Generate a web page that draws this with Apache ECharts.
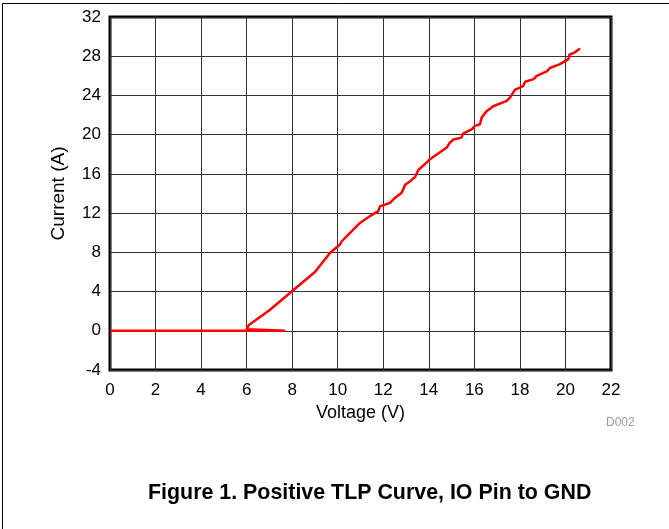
<!DOCTYPE html>
<html>
<head>
<meta charset="utf-8">
<script src="https://cdn.jsdelivr.net/npm/echarts@6/dist/echarts.min.js"></script>
<style>
html,body{margin:0;padding:0;background:#fff;}
#c{width:669px;height:529px;}
</style>
</head>
<body>
<div id="c"></div>
<script>
const xTicks = [0, 22, 2];
const yTicks = [-4, 32, 4];
const voltage = [0, 7.7, 6.0, 6.1, 7.0, 7.9, 9.0, 9.66, 10.1, 10.18, 10.54, 10.98, 11.42, 11.78, 11.86, 12.3, 12.52, 12.81, 12.96, 13.18, 13.4, 13.54, 13.9, 14.05, 14.49, 14.79, 14.93, 15.08, 15.44, 15.5, 15.88, 16.03, 16.25, 16.32, 16.54, 16.83, 17.42, 17.57, 17.79, 18.0, 18.15, 18.23, 18.6, 18.74, 19.18, 19.32, 19.76, 20.13, 20.17, 20.42, 20.64];
const current = [0, 0, 0.15, 0.6, 2.1, 3.85, 6.0, 7.94, 8.8, 9.13, 9.99, 11.0, 11.7, 12.2, 12.7, 13.05, 13.57, 14.08, 14.9, 15.25, 15.7, 16.4, 17.15, 17.5, 18.2, 18.7, 19.2, 19.5, 19.7, 20.1, 20.55, 20.9, 21.06, 21.74, 22.4, 22.9, 23.45, 23.8, 24.6, 24.8, 24.98, 25.4, 25.66, 26.0, 26.45, 26.8, 27.2, 27.7, 28.15, 28.4, 28.8];
const xName = 'Voltage (V)';
const yName = 'Current (A)';
const title = 'Figure 1. Positive TLP Curve, IO Pin to GND';
const tag = 'D002';

const pts = voltage.map((v, i) => [v, current[i]]);
const chart = echarts.init(document.getElementById('c'), null, {renderer: 'canvas'});
const font = 'Liberation Sans, Arial, sans-serif';
chart.setOption({
  animation: false,
  backgroundColor: '#fff',
  graphic: [
    {type: 'rect', shape: {x: 2.5, y: 3.5, width: 700, height: 600}, style: {fill: 'none', stroke: '#000', lineWidth: 1}, z: -1},
    {type: 'text', left: 606, top: 417, style: {text: tag, fill: '#999', font: '12px ' + font}},
    {type: 'text', left: 148, top: 483, style: {text: title, fill: '#000', font: 'bold 21.4px ' + font}}
  ],
  grid: {left: 110, right: 58, top: 17, bottom: 159, show: true, borderColor: '#000', borderWidth: 3, backgroundColor: 'transparent'},
  xAxis: {
    type: 'value', min: xTicks[0], max: xTicks[1], interval: xTicks[2],
    name: xName, nameLocation: 'middle', nameGap: 32,
    nameTextStyle: {color: '#000', fontSize: 18, fontFamily: font},
    axisLine: {show: false}, axisTick: {show: false},
    axisLabel: {color: '#000', fontSize: 17, fontFamily: font, margin: 12},
    splitLine: {show: true, lineStyle: {color: '#333', width: 1}}
  },
  yAxis: {
    type: 'value', min: yTicks[0], max: yTicks[1], interval: yTicks[2],
    name: yName, nameLocation: 'middle', nameGap: 42,
    nameTextStyle: {color: '#000', fontSize: 19, fontFamily: font},
    axisLine: {show: false}, axisTick: {show: false},
    axisLabel: {color: '#000', fontSize: 17, fontFamily: font, margin: 9},
    splitLine: {show: true, lineStyle: {color: '#333', width: 1}}
  },
  series: [{
    type: 'line', data: pts, showSymbol: false, symbol: 'none',
    lineStyle: {color: '#ff0000', width: 2.5}, z: 3
  }]
});
</script>
</body>
</html>
